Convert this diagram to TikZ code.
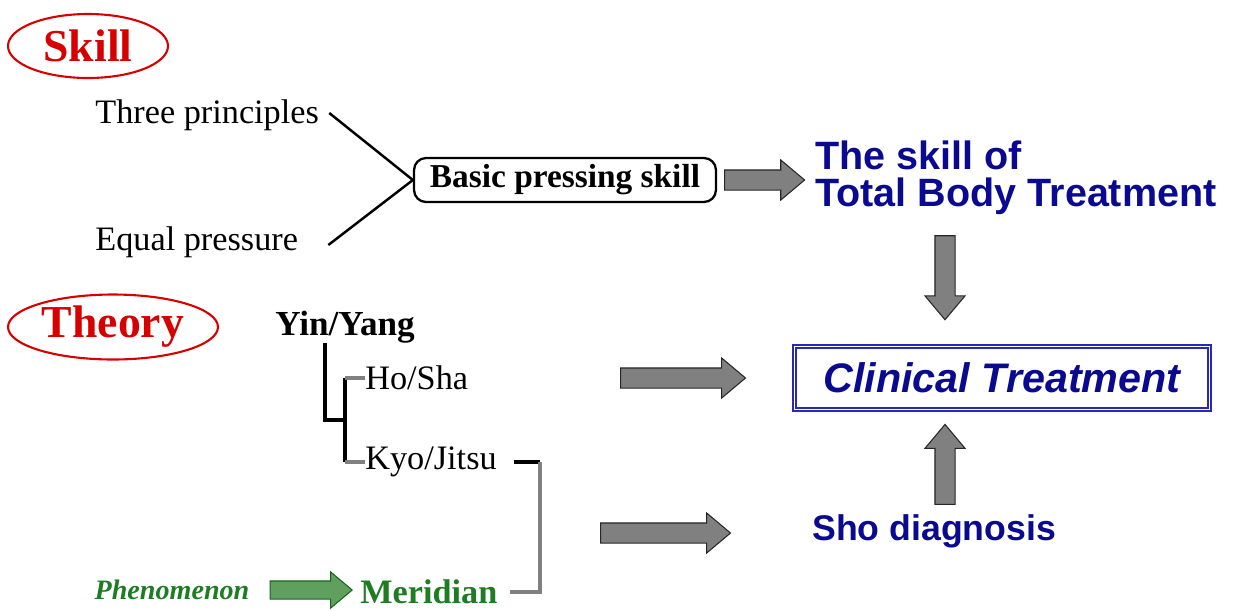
\documentclass[tikz,border=0pt]{standalone}
\usepackage{fontspec}
\setmainfont{Liberation Serif}
\newfontfamily\labelsans{Liberation Sans}
\usetikzlibrary{positioning,shapes.geometric,shapes.arrows}
\usepackage{xcolor}
\definecolor{tagred}{RGB}{215,0,0}
\definecolor{titleblue}{RGB}{10,10,145}
\definecolor{boxblue}{RGB}{40,40,185}
\definecolor{arrowgray}{RGB}{128,128,128}
\definecolor{phengreen}{RGB}{30,125,35}
\definecolor{arrowgreen}{RGB}{95,160,95}

\begin{document}
\begin{tikzpicture}[
        x=0.02cm, y=-0.02cm,
        tag/.style={ellipse, draw=tagred, line width=1.2pt, inner sep=0, text=tagred,
          font=\bfseries\fontsize{26}{30}\selectfont},
        plain/.style={inner sep=0, font=\fontsize{19.5}{23}\selectfont},
        bluetext/.style={inner sep=0, text=titleblue, font=\labelsans\bfseries\fontsize{#1}{21}\selectfont},
        blockarrow/.style={single arrow, draw=black!85, fill=arrowgray, line width=0.6pt,
          inner xsep=0, inner ysep=1.9mm, single arrow head extend=2mm, single arrow tip angle=80,
          sloped, pos=0, anchor=tail},
        greenarrow/.style={blockarrow, draw=phengreen!80!black, fill=arrowgreen,
          inner ysep=1.7mm, single arrow head extend=1.8mm},
        joinline/.style={draw=black, line width=1.4pt},
        treeline/.style={draw=black, line width=1.8pt},
        stubline/.style={draw=black!50, line width=1.8pt}
      ]
      \useasboundingbox (0,0) rectangle (1238,610);

      % Skill
      \node[tag, minimum width=32mm, minimum height=12.8mm] (skilltag) at (88,46) {Skill};
      \node[plain, anchor=west] (three) at (95,115) {Three principles};
      \node[plain, anchor=west] (equal) at (95,242) {Equal pressure};
      \node[draw, line width=1.3pt, rounded corners=2.4mm, minimum width=60.4mm, minimum height=8.8mm,
        inner sep=0, font=\bfseries\fontsize{19}{22}\selectfont] (basic) at (565,180) {Basic pressing skill};
      \draw[joinline] (three.east) ++(10,-2) -- (basic.west);
      \draw[joinline] (equal.east) ++(30,3) -- (basic.west);
      \node[bluetext=22.5, anchor=west, align=left] (total) at (815,178) {The skill of\\Total Body Treatment};
      \path (basic.east) ++(7,0) -- (total.west |- basic.east) node[blockarrow, minimum height=16mm] {};

      % Clinical treatment
      \node[draw=boxblue, line width=1pt, double=white, double distance=0.8pt,
        minimum width=83mm, minimum height=12.6mm, inner sep=0, text=titleblue,
        font=\labelsans\bfseries\itshape\fontsize{23.5}{28}\selectfont] (clinical) at (1002,378) {Clinical Treatment};
      \coordinate (dn) at (945,0);
      \path (total.south -| dn) ++(0,20) -- (clinical.north -| dn) node[blockarrow, minimum height=16.8mm] {};

      % Theory
      \node[tag, minimum width=42mm, minimum height=13mm] (theorytag) at (113,327) {Theory};
      \node[plain, font=\bfseries\fontsize{20}{23}\selectfont] (yinyang) at (345,327) {Yin/Yang};
      \node[plain, anchor=west] (hosha) at (365,378) {Ho/Sha};
      \node[plain, anchor=west] (kyojitsu) at (365,462) {Kyo/Jitsu};
      \coordinate (fork) at (325,420);
      \coordinate (stem) at (345,420);
      \draw[treeline] (yinyang.south -| fork) -- (fork) -- (stem);
      \draw[treeline] (hosha.west -| stem) -- (kyojitsu.west -| stem);
      \draw[stubline] (hosha.west -| stem) -- (hosha.west);
      \draw[stubline] (kyojitsu.west -| stem) -- (kyojitsu.west);

      % Phenomenon and meridian
      \node[inner sep=0, text=phengreen, font=\bfseries\itshape\fontsize{16}{19}\selectfont] (phen) at (172,590) {Phenomenon};
      \node[plain, anchor=west, text=phengreen, font=\bfseries\fontsize{19.5}{23}\selectfont] (meridian) at (360,592) {Meridian};
      \path (phen.east) ++(20,0) -- (meridian.west |- phen.east) node[greenarrow, minimum height=16.4mm] {};

      % Bracket
      \coordinate (brk) at (540,0);
      \draw[treeline] (kyojitsu.east) ++(17,0) -- (kyojitsu.east -| brk);
      \draw[stubline] (meridian.east) ++(12,0) -| (kyojitsu.east -| brk);

      % Sho diagnosis
      \node[bluetext=20.3, anchor=west] (sho) at (812,531) {Sho diagnosis};
      \path (sho.north -| dn) ++(0,-9) -- (clinical.south -| dn) node[blockarrow, minimum height=16mm] {};
      \coordinate (hsout) at (620,378);
      \path (hsout) -- (clinical.west) node[blockarrow, minimum height=25mm] {};
      \coordinate (brkout) at (600,533);
      \path (brkout) -- (sho.west |- brkout) node[blockarrow, minimum height=26mm] {};

    \end{tikzpicture}
\end{document}
